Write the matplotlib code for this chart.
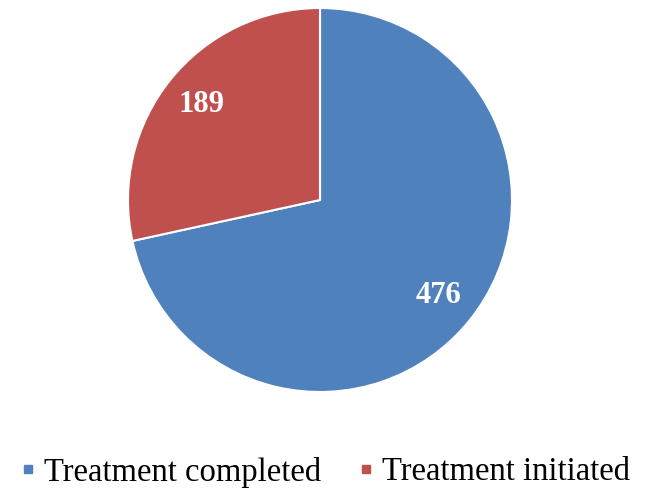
import matplotlib.pyplot as plt
from matplotlib.lines import Line2D

# data
categories = ["Treatment completed", "Treatment initiated"]
counts = [476, 189]
colors = ["#4F81BD", "#C0504D"]

plt.rcParams['font.family'] = ['Liberation Serif', 'DejaVu Serif']

W, H = 650, 503
fig = plt.figure(figsize=(W / 100, H / 100), dpi=100)

# pie centre (320, 200) px, radius 192 px
cx, cy, r = 320, 200, 192
ax = fig.add_axes([(cx - r) / W, (H - cy - r) / H, 2 * r / W, 2 * r / H])

wedges, texts, autotexts = ax.pie(
    counts, colors=colors, startangle=90, counterclock=False,
    autopct=lambda p: "%d" % round(p * sum(counts) / 100),
    pctdistance=0.79,
    wedgeprops=dict(edgecolor="white", linewidth=1.5),
    textprops=dict(color="white", fontsize=22, fontweight="bold"))
ax.set_xlim(-1, 1)
ax.set_ylim(-1, 1)
ax.set_aspect("equal")

handles = [Line2D([], [], marker="s", linestyle="", color=c, markersize=6)
           for c in colors]
fig.legend(handles, categories, loc="center", bbox_to_anchor=(0.5, 1 - 472 / H),
           ncol=2, frameon=False, fontsize=23.5, handlelength=0.5,
           handletextpad=0.25, columnspacing=1.1)

fig.savefig("out.png", dpi=100, facecolor="white")
